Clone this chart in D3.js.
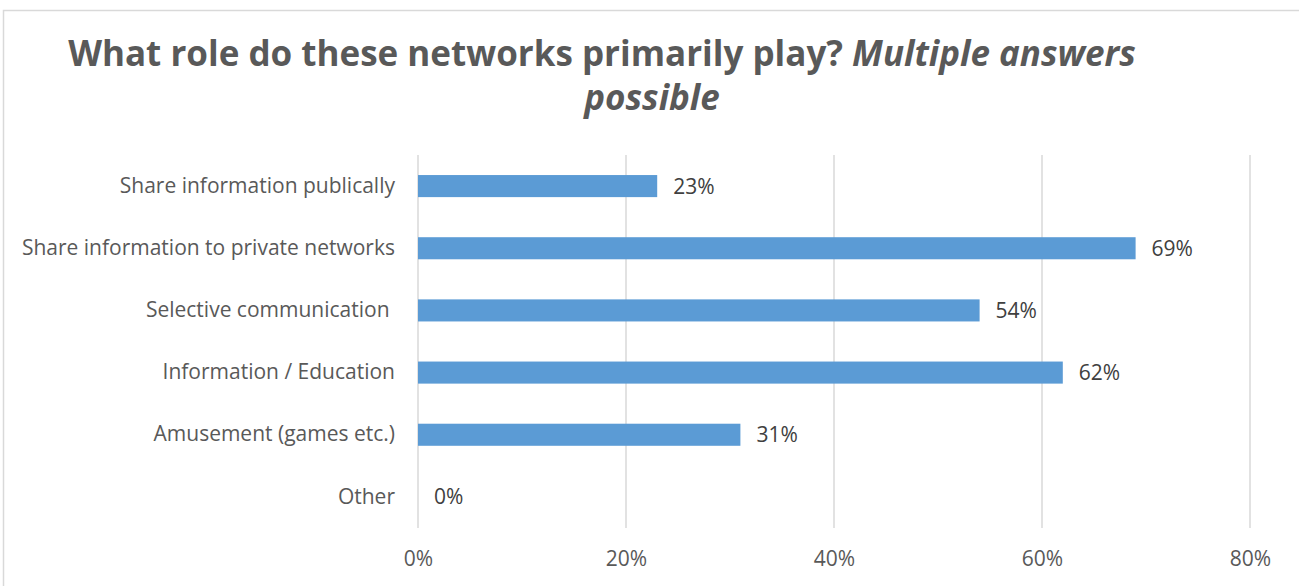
<!DOCTYPE html>
<html>
<head>
<meta charset="utf-8">
<script src="https://cdn.jsdelivr.net/npm/d3@7"></script>
<style>
  html, body { margin: 0; padding: 0; background: #fff; }
  svg text { font-family: "Open Sans", Lato, sans-serif; }
</style>
</head>
<body>
<svg id="chart" width="1299" height="586"></svg>
<script>
// Survey answers, share of respondents per role
const categories = [
  "Share information publically",
  "Share information to private networks",
  "Selective communication ",
  "Information / Education",
  "Amusement (games etc.)",
  "Other"
];
const values = [0.23, 0.69, 0.54, 0.62, 0.31, 0.00];
const tickValues = [0, 0.2, 0.4, 0.6, 0.8];
const titleLine1 = "What role do these networks primarily play?";
const titleItalic = " Multiple answers";
const titleLine2 = "possible";

const FONT = "'Open Sans', Lato, sans-serif";
const svg = d3.select("#chart");
const W = 1299, H = 586;
const plot = { left: 418, right: 1250, top: 155, bottom: 528 };

// Chart frame (runs past the right and bottom edges)
svg.append("rect")
  .attr("x", 3.5).attr("y", 10.5)
  .attr("width", W + 10).attr("height", H + 10)
  .attr("fill", "#fff")
  .attr("stroke", "#d9d9d9").attr("stroke-width", 1.5);

// Title
const title = svg.append("g").attr("fill", "#595959")
  .style("font-weight", "bold").style("font-size", "35px");
const t1 = title.append("text").attr("x", 602).attr("y", 66).attr("text-anchor", "middle");
t1.append("tspan").text(titleLine1);
t1.append("tspan").style("font-style", "italic").text(titleItalic);
title.append("text").attr("x", 652).attr("y", 110).attr("text-anchor", "middle")
  .style("font-style", "italic").text(titleLine2);

const x = d3.scaleLinear().domain([0, 0.8]).range([plot.left, plot.right]);
const y = d3.scaleBand().domain(categories).range([plot.top, plot.bottom])
  .paddingInner(0.645).paddingOuter(0.3225);

// Vertical gridlines
svg.append("g").selectAll("line").data(tickValues).join("line")
  .attr("x1", d => x(d)).attr("x2", d => x(d))
  .attr("y1", plot.top).attr("y2", plot.bottom)
  .attr("stroke", "#d9d9d9").attr("stroke-width", 1.5);

// X axis tick labels
const xAxis = svg.append("g").attr("transform", `translate(0,${plot.bottom})`)
  .call(d3.axisBottom(x).tickValues(tickValues).tickFormat(d3.format(".0%")).tickSize(0).tickPadding(0));
xAxis.select(".domain").remove();
xAxis.selectAll("text")
  .attr("dy", null).attr("y", 38)
  .attr("fill", "#595959").style("font-size", "21px").style("font-family", FONT);

// Y axis category labels
const yAxis = svg.append("g").attr("transform", `translate(${plot.left},0)`)
  .call(d3.axisLeft(y).tickSize(0).tickPadding(23));
yAxis.select(".domain").remove();
yAxis.selectAll("text")
  .style("white-space", "pre")
  .attr("fill", "#595959").style("font-size", "21px").style("font-family", FONT);

// Bars
svg.append("g").selectAll("rect").data(values).join("rect")
  .attr("x", x(0))
  .attr("y", (d, i) => y(categories[i]))
  .attr("width", d => x(d) - x(0))
  .attr("height", y.bandwidth())
  .attr("fill", "#5b9bd5");

// Value labels
svg.append("g").selectAll("text").data(values).join("text")
  .attr("x", d => x(d) + 16)
  .attr("y", (d, i) => y(categories[i]) + y.bandwidth() / 2)
  .attr("dy", "0.36em")
  .attr("fill", "#404040").style("font-size", "21px")
  .text(d => d3.format(".0%")(d));
</script>
</body>
</html>
